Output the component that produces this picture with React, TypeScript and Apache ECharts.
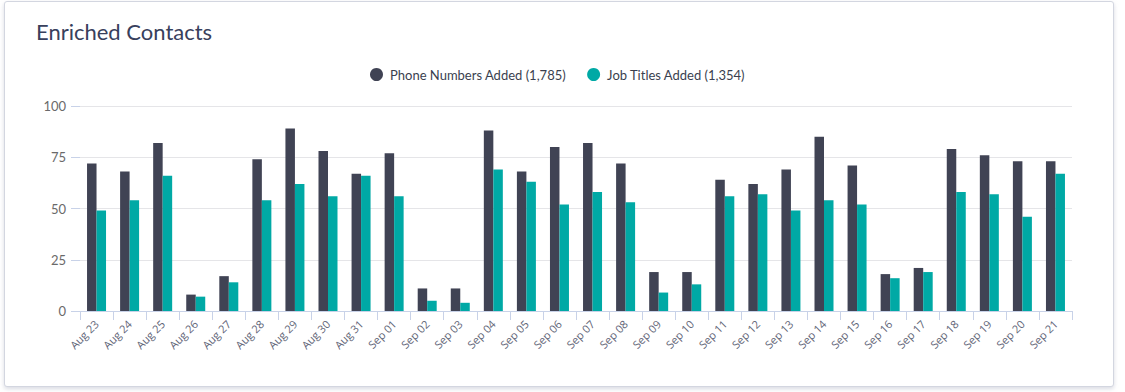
import React, { useEffect, useRef } from "react";
import * as echarts from "echarts";

const categories = [
  "Aug 23", "Aug 24", "Aug 25", "Aug 26", "Aug 27", "Aug 28", "Aug 29", "Aug 30", "Aug 31",
  "Sep 01", "Sep 02", "Sep 03", "Sep 04", "Sep 05", "Sep 06", "Sep 07", "Sep 08", "Sep 09",
  "Sep 10", "Sep 11", "Sep 12", "Sep 13", "Sep 14", "Sep 15", "Sep 16", "Sep 17", "Sep 18",
  "Sep 19", "Sep 20", "Sep 21",
];

const phoneNumbers = [
  72, 68, 82, 8, 17, 74, 89, 78, 67, 77, 11, 11, 88, 68, 80, 82, 72, 19, 19, 64, 62, 69, 85, 71,
  18, 21, 79, 76, 73, 73,
];

const jobTitles = [
  49, 54, 66, 7, 14, 54, 62, 56, 66, 56, 5, 4, 69, 63, 52, 58, 53, 9, 13, 56, 57, 49, 54, 52, 16,
  19, 58, 57, 46, 67,
];

const yTicks = [0, 25, 50, 75, 100];

const phoneLabel = "Phone Numbers Added (1,785)";
const jobLabel = "Job Titles Added (1,354)";

export default function App() {
  const ref = useRef<HTMLDivElement>(null);

  useEffect(() => {
    if (!ref.current) return;
    const chart = echarts.init(ref.current, null, { renderer: "svg" });
    chart.setOption({
      animation: false,
      title: {
        text: "Enriched Contacts",
        left: 31,
        top: 15,
        textStyle: {
          fontFamily: "Lato",
          fontSize: 22,
          fontWeight: "normal",
          color: "#38405c",
        },
      },
      legend: {
        left: 365,
        top: 63,
        icon: "circle",
        itemWidth: 13,
        itemHeight: 13,
        itemGap: 21,
        textStyle: {
          fontFamily: "Lato",
          fontSize: 13,
          color: "#3a3f4f",
          padding: [0, 0, 0, 2],
        },
        data: [phoneLabel, jobLabel],
      },
      grid: {
        left: 80,
        right: 53,
        top: 106,
        bottom: 81,
      },
      xAxis: {
        type: "category",
        data: categories,
        boundaryGap: true,
        axisLine: { show: true, lineStyle: { color: "#c8d2e8", width: 1 } },
        axisTick: { show: true, length: 9, lineStyle: { color: "#c8d2e8" } },
        axisLabel: {
          rotate: 45,
          interval: 0,
          margin: 11,
          fontFamily: "Open Sans",
          fontSize: 11,
          color: "#5f6577",
        },
      },
      yAxis: {
        type: "value",
        min: yTicks[0],
        max: yTicks[yTicks.length - 1],
        interval: 25,
        axisLine: { show: false },
        axisTick: { show: true, length: 9, lineStyle: { color: "#c8d2e8" } },
        splitLine: { show: true, lineStyle: { color: "#e5e5e8", width: 1 } },
        axisLabel: {
          margin: 14,
          fontFamily: "Lato",
          fontSize: 13,
          color: "#6a6a6a",
        },
      },
      series: [
        {
          name: phoneLabel,
          type: "bar",
          data: phoneNumbers,
          barWidth: 9.5,
          barGap: "0%",
          itemStyle: { color: "#404354" },
        },
        {
          name: jobLabel,
          type: "bar",
          data: jobTitles,
          barWidth: 9.5,
          barGap: "0%",
          itemStyle: { color: "#00a9a5" },
        },
      ],
    });
    return () => chart.dispose();
  }, []);

  return (
    <div style={{ position: "absolute", left: 0, top: 0, width: 1125, height: 392, background: "#ffffff" }}>
      <div
        style={{
          position: "absolute",
          left: 4,
          top: 1,
          width: 1108,
          height: 384,
          border: "1px solid #d3d6e0",
          borderRadius: 3,
          background: "#ffffff",
          boxShadow: "0 2px 4px rgba(160,165,185,0.4)",
        }}
      />
      <div ref={ref} style={{ position: "absolute", left: 0, top: 0, width: 1125, height: 392 }} />
    </div>
  );
}
